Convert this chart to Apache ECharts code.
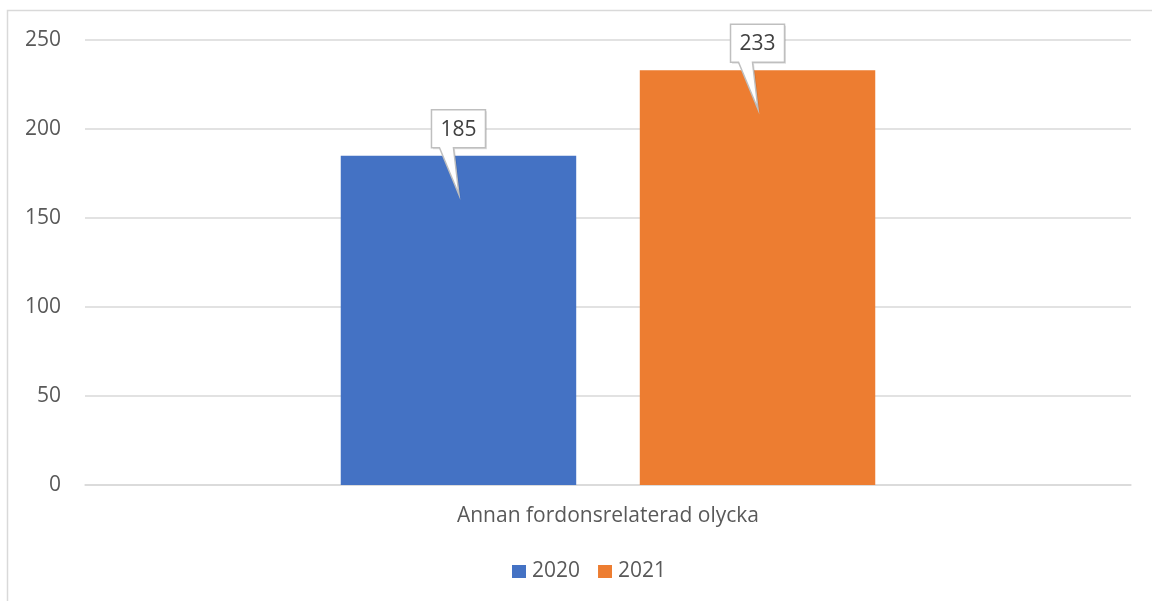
<!DOCTYPE html>
<html><head><meta charset="utf-8">
<script src="https://cdn.jsdelivr.net/npm/echarts@6/dist/echarts.min.js"></script>
<style>html,body{margin:0;padding:0;background:#fff}#c{width:1152px;height:601px}</style>
</head><body><div id="c"></div>
<script>
const categories = ['Annan fordonsrelaterad olycka'];
const seriesNames = ['2020', '2021'];
const values2020 = [185];
const values2021 = [233];
const colors = ['#4472C4', '#ED7D31'];
const yTicks = { min: 0, max: 250, interval: 50 };

const FONT = '"Open Sans", "Liberation Sans", Arial, sans-serif';
const FS = 21;
const chart = echarts.init(document.getElementById('c'));
const CAT_GAP = 0.489, BAR_GAP = 0.27;

function calloutSeries(vals, dir) {
  return {
    type: 'custom',
    name: 'callout' + dir,
    z: 10,
    silent: true,
    data: vals.map((v, i) => [i, v]),
    renderItem: function (params, api) {
      const p = api.coord([api.value(0), api.value(1)]);
      const band = api.size([1, 0])[0];
      const bw = band * (1 - CAT_GAP) / (2 + BAR_GAP);
      const x = p[0] + dir * (bw + bw * BAR_GAP) / 2;
      const top = p[1];
      const bt = top - 46, bb = top - 8, bl = x - 27, br = x + 27;
      const pts = [[bl, bt], [br, bt], [br, bb], [x - 5, bb], [x + 0.5, top + 39], [x - 19, bb], [bl, bb]];
      return {
        type: 'group',
        children: [
          { type: 'polygon', shape: { points: pts.map(q => [q[0] + 1.5, q[1] + 1.5]) },
            style: { fill: 'rgba(0,0,0,0.12)' } },
          { type: 'polygon', shape: { points: pts },
            style: { fill: '#fff', stroke: '#bfbfbf', lineWidth: 1.5 } },
          { type: 'text', x: x, y: (bt + bb) / 2 + 1,
            style: { text: String(api.value(1)), fill: '#404040', font: FS + 'px ' + FONT,
                     align: 'center', verticalAlign: 'middle' } }
        ]
      };
    }
  };
}

chart.setOption({
  animation: false,
  color: colors,
  graphic: [{ type: 'rect', shape: { x: 7.5, y: 10.5, width: 1200, height: 650 },
              style: { fill: 'none', stroke: '#d9d9d9', lineWidth: 1.5 }, z: -1 }],
  grid: { left: 85, right: 21, top: 40, bottom: 116, containLabel: false },
  legend: {
    data: seriesNames, bottom: 14, left: 507, itemWidth: 14, itemHeight: 13, itemGap: 18,
    icon: 'rect',
    textStyle: { color: '#595959', fontSize: FS, fontFamily: FONT, padding: [0, 0, 0, 1] }
  },
  xAxis: {
    type: 'category', data: categories,
    axisLine: { lineStyle: { color: '#d9d9d9', width: 1.5 } },
    axisTick: { show: false },
    axisLabel: { color: '#595959', fontSize: FS, fontFamily: FONT, margin: 21 }
  },
  yAxis: {
    type: 'value', min: yTicks.min, max: yTicks.max, interval: yTicks.interval,
    axisLine: { show: false }, axisTick: { show: false },
    splitLine: { lineStyle: { color: '#d9d9d9', width: 1.5 } },
    axisLabel: { color: '#595959', fontSize: FS, fontFamily: FONT, margin: 24 }
  },
  series: [
    { name: seriesNames[0], type: 'bar', data: values2020, barGap: (BAR_GAP * 100) + '%',
      barCategoryGap: (CAT_GAP * 100) + '%', itemStyle: { color: colors[0] } },
    { name: seriesNames[1], type: 'bar', data: values2021, itemStyle: { color: colors[1] } },
    calloutSeries(values2020, -1),
    calloutSeries(values2021, 1)
  ]
});
</script></body></html>
